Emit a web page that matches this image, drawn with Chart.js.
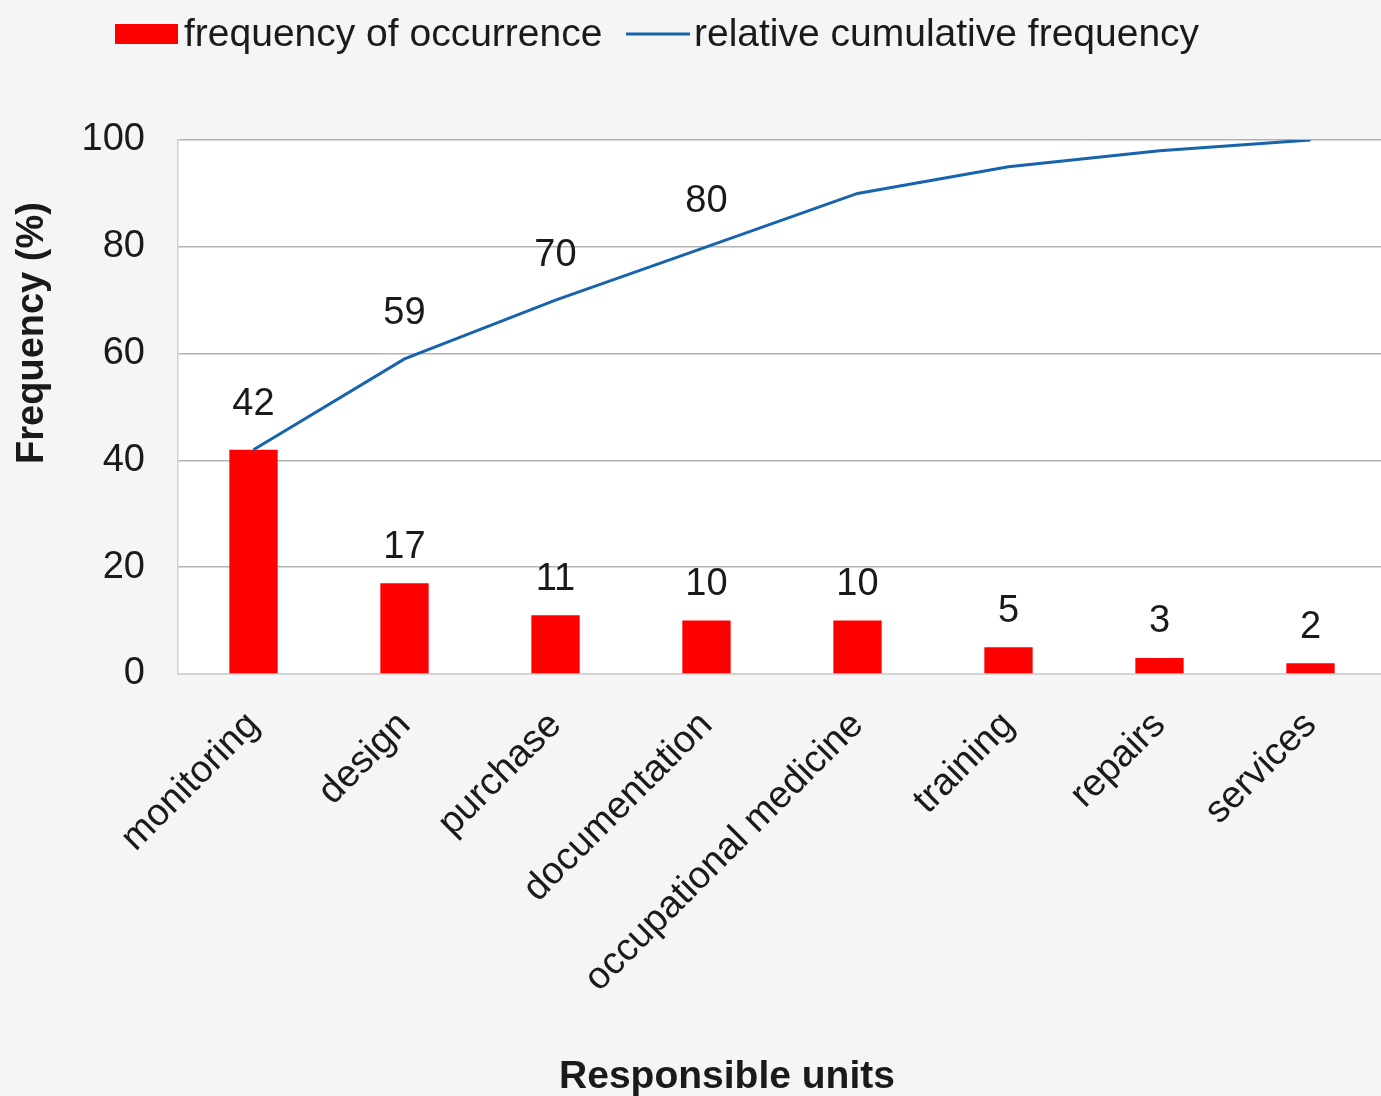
<!DOCTYPE html>
<html><head><meta charset="utf-8">
<script src="https://cdn.jsdelivr.net/npm/chart.js@4"></script>
<style>
html,body{margin:0;padding:0;background:#f5f5f5;overflow:hidden;}
#wrap{width:1386px;height:1096px;position:relative;}
</style></head><body>
<div id="wrap"><canvas id="c"></canvas></div>
<script>
// Responsible units and their share of occurrences (%)
const units = ['monitoring', 'design', 'purchase', 'documentation', 'occupational medicine', 'training', 'repairs', 'services'];
const occurrence = [42, 17, 11, 10, 10, 5, 3, 2];
const cumulative = [42, 59, 70, 80, 90, 95, 98, 100];
const seriesNames = ['frequency of occurrence', 'relative cumulative frequency'];
const yTitle = 'Frequency (%)';
const xTitle = 'Responsible units';
const yMin = 0, yMax = 100, yStep = 20;
// which points carry a value label
const barLabelIdx = [1, 2, 3, 4, 5, 6, 7];
const lineLabelIdx = [0, 1, 2, 3];

const FONT = 'Liberation Sans, Arial, sans-serif';
const TEXT = '#1a1a1a';
const RED = '#ff0000';
const BLUE = '#1764ad';

const plotBackground = {
  id: 'plotBackground',
  beforeDraw(chart) {
    const {ctx, chartArea: a} = chart;
    ctx.save();
    ctx.fillStyle = '#ffffff';
    ctx.fillRect(a.left, a.top, a.right - a.left, a.bottom - a.top);
    ctx.restore();
  }
};

const valueLabels = {
  id: 'valueLabels',
  afterDatasetsDraw(chart) {
    const {ctx} = chart;
    ctx.save();
    ctx.font = '38px ' + FONT;
    ctx.fillStyle = TEXT;
    ctx.textAlign = 'center';
    ctx.textBaseline = 'middle';
    const bars = chart.getDatasetMeta(0).data;
    barLabelIdx.forEach(i => {
      ctx.fillText(String(occurrence[i]), bars[i].x, bars[i].y - 36);
    });
    const pts = chart.getDatasetMeta(1).data;
    lineLabelIdx.forEach(i => {
      ctx.fillText(String(cumulative[i]), pts[i].x, pts[i].y - 45);
    });
    ctx.restore();
  }
};

const legendAndTitles = {
  id: 'legendAndTitles',
  afterDraw(chart) {
    const {ctx} = chart;
    ctx.save();
    // legend
    ctx.fillStyle = RED;
    ctx.fillRect(115, 24, 63, 20);
    ctx.strokeStyle = BLUE;
    ctx.lineWidth = 3;
    ctx.beginPath();
    ctx.moveTo(626, 34);
    ctx.lineTo(690, 34);
    ctx.stroke();
    ctx.fillStyle = TEXT;
    ctx.font = '39px ' + FONT;
    ctx.textAlign = 'left';
    ctx.textBaseline = 'middle';
    ctx.fillText(seriesNames[0], 184, 35);
    ctx.fillText(seriesNames[1], 694, 35);
    // axis titles
    ctx.font = 'bold 39px ' + FONT;
    ctx.textAlign = 'center';
    ctx.fillText(xTitle, 727, 1077);
    ctx.font = 'bold 38px ' + FONT;
    ctx.translate(33, 333);
    ctx.rotate(-Math.PI / 2);
    ctx.fillText(yTitle, 0, 0);
    ctx.restore();
  }
};

new Chart(document.getElementById('c'), {
  data: {
    labels: units,
    datasets: [
      {
        type: 'bar',
        label: seriesNames[0],
        data: occurrence,
        backgroundColor: RED,
        barPercentage: 0.32,
        categoryPercentage: 1,
        order: 1
      },
      {
        type: 'line',
        label: seriesNames[1],
        data: cumulative,
        borderColor: BLUE,
        borderWidth: 3,
        pointRadius: 0,
        tension: 0,
        order: 0
      }
    ]
  },
  options: {
    responsive: true,
    maintainAspectRatio: false,
    animation: false,
    layout: {padding: {top: 140, left: 0, right: 0, bottom: 0}},
    plugins: {legend: {display: false}, tooltip: {enabled: false}},
    scales: {
      x: {
        grid: {display: false, drawTicks: false},
        border: {display: true, color: '#d4d4d4', width: 1.5},
        ticks: {
          color: TEXT,
          font: {family: FONT, size: 38},
          minRotation: 45,
          maxRotation: 45,
          autoSkip: false,
          padding: 29
        },
        afterFit(s) { s.height = 422; }
      },
      y: {
        min: yMin,
        max: yMax,
        grid: {color: '#b3b3b3', lineWidth: 1.5, drawTicks: false},
        border: {display: true, color: '#cfcfcf', width: 1.5},
        ticks: {
          stepSize: yStep,
          color: TEXT,
          font: {family: FONT, size: 38},
          padding: 33
        },
        afterFit(s) { s.width = 178; }
      }
    }
  },
  plugins: [plotBackground, valueLabels, legendAndTitles]
});
</script>
</body></html>
